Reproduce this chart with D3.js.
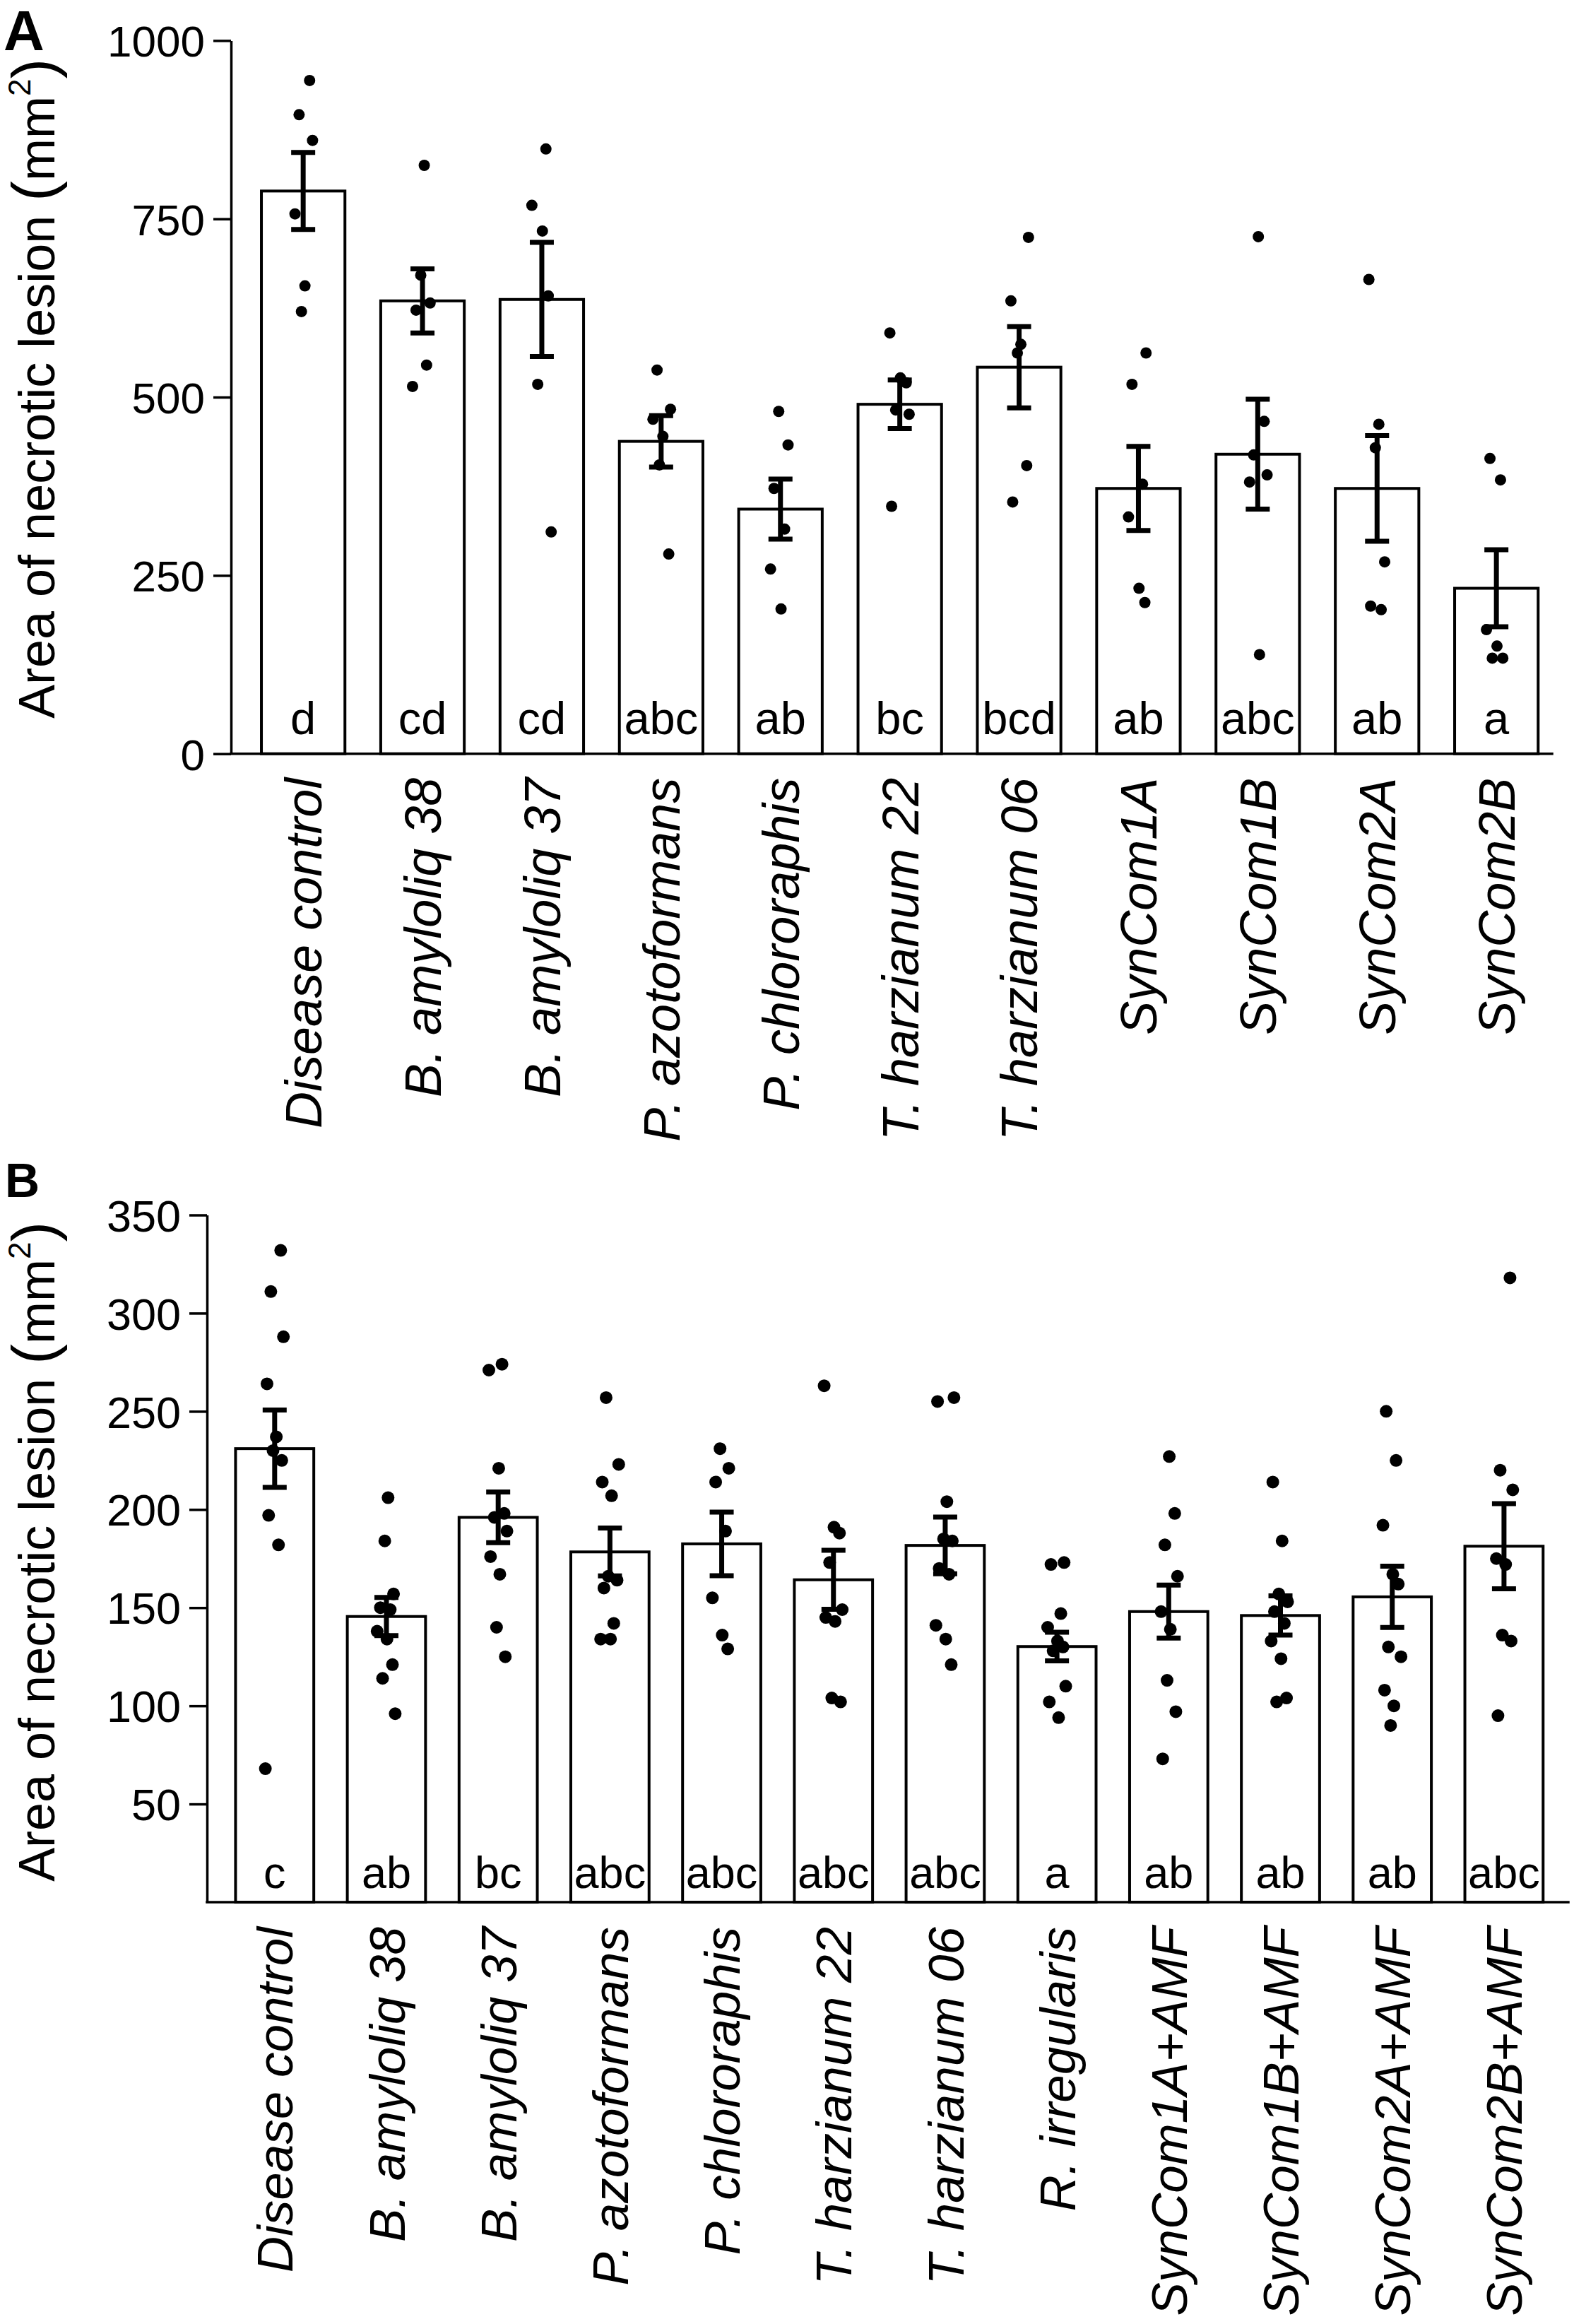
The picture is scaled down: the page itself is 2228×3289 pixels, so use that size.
<!DOCTYPE html>
<html>
<head>
<meta charset="utf-8">
<script src="https://cdn.jsdelivr.net/npm/d3@7"></script>
<style>
  body { margin: 0; background: #fff; }
  svg { display: block; }
  text { font-family: "Liberation Sans", Arial, sans-serif; fill: #000; }
</style>
</head>
<body>
<svg id="fig" width="2228" height="3289"></svg>
<script>
// panel A
const catsA = ["Disease control", "B. amyloliq 38", "B. amyloliq 37", "P. azotoformans", "P. chlororaphis",
  "T. harzianum 22", "T. harzianum 06", "SynCom1A", "SynCom1B", "SynCom2A", "SynCom2B"]
const meanA = [789, 635, 637, 438, 343, 490, 542, 372, 420, 372, 232]
const errA = [54, 45, 80, 36, 42, 34, 57, 59, 77, 74, 54]
const lettersA = ["d", "cd", "cd", "abc", "ab", "bc", "bcd", "ab", "abc", "ab", "a"]
const pointsA = [
  [944, 896, 860, 757, 656, 620],
  [825, 671, 632, 622, 545, 515],
  [848, 769, 733, 642, 518, 311],
  [538, 483, 469, 445, 405, 280],
  [480, 433, 372, 315, 259, 203],
  [590, 527, 520, 482, 476, 347],
  [724, 635, 574, 562, 404, 353],
  [562, 518, 378, 332, 232, 212],
  [725, 466, 419, 391, 381, 139],
  [665, 462, 429, 269, 207, 202],
  [414, 384, 174, 151, 134, 134]
]
const ticksA = [0, 250, 500, 750, 1000]

// panel B
const catsB = ["Disease control", "B. amyloliq 38", "B. amyloliq 37", "P. azotoformans", "P. chlororaphis",
  "T. harzianum 22", "T. harzianum 06", "R. irregularis", "SynCom1A+AMF", "SynCom1B+AMF", "SynCom2A+AMF", "SynCom2B+AMF"]
const meanB = [231, 145.5, 196, 178.4, 182.5, 164.2, 181.7, 130.2, 148, 146, 155.5, 181.3]
const errB = [19.7, 9.7, 12.9, 12.2, 16.2, 15, 14.4, 7.3, 13.5, 10, 15.6, 21.7]
const lettersB = ["c", "ab", "bc", "abc", "abc", "abc", "abc", "a", "ab", "ab", "ab", "abc"]
const pointsB = [
  [332, 311, 288, 264, 237, 230, 225, 197, 182, 68],
  [206, 184, 157, 150, 149, 138, 134, 121, 114, 96],
  [274, 271, 221, 198, 196, 189, 176, 167, 140, 125],
  [257, 223, 214, 207, 166, 164, 160, 142, 134, 134],
  [231, 221, 214, 189, 155, 136, 129],
  [263, 191, 188, 173, 149, 145, 143, 104, 102],
  [257, 255, 204, 185, 184, 170, 167, 141, 134, 121],
  [173, 172, 147, 140, 133, 130, 128, 110, 102, 94],
  [227, 198, 182, 166, 148, 139, 113, 97, 73],
  [214, 184, 157, 153, 148, 142, 133, 124, 104, 102],
  [250, 225, 192, 167, 162, 130, 125, 108, 100, 90],
  [318, 220, 210, 175, 172, 136, 133, 95]
]
const ticksB = [50, 100, 150, 200, 250, 300, 350]

// fixed jitter pattern for the dots
const jit = [0.55, -0.35, 0.8, -0.7, 0.15, -0.15, 0.65, -0.55, 0.35, -0.85, 0.05]

var svg = d3.select("#fig")
svg.append("rect").attr("width", 2228).attr("height", 3289).attr("fill", "#fff")

function drawPanel(p) {
  var g = svg.append("g")
  var x = d3.scaleBand().domain(p.cats).range(p.xr).paddingInner(0.3).paddingOuter(0.15)
  var y = d3.scaleLinear().domain(p.ydom).range(p.yr)
  var bw = x.bandwidth()

  // bars
  g.selectAll("rect.bar").data(p.cats).enter().append("rect")
    .attr("x", d => x(d)).attr("width", bw)
    .attr("y", (d, i) => y(p.mean[i]))
    .attr("height", (d, i) => y(0) - y(p.mean[i]))
    .attr("fill", "#fff").attr("stroke", "#000").attr("stroke-width", 4)

  // error bars
  p.cats.forEach(function(c, i) {
    var cx = x(c) + bw / 2
    var hi = y(p.mean[i] + p.err[i]), lo = y(p.mean[i] - p.err[i])
    g.append("line").attr("x1", cx).attr("x2", cx).attr("y1", hi).attr("y2", lo)
      .attr("stroke", "#000").attr("stroke-width", 7)
    g.append("line").attr("x1", cx - 17).attr("x2", cx + 17).attr("y1", hi).attr("y2", hi)
      .attr("stroke", "#000").attr("stroke-width", 7)
    g.append("line").attr("x1", cx - 17).attr("x2", cx + 17).attr("y1", lo).attr("y2", lo)
      .attr("stroke", "#000").attr("stroke-width", 7)
  })

  // dots
  p.cats.forEach(function(c, i) {
    var cx = x(c) + bw / 2
    g.selectAll(null).data(p.pts[i]).enter().append("circle")
      .attr("cx", (v, j) => cx + jit[(i * 4 + j) % jit.length] * bw * 0.14)
      .attr("cy", v => y(v))
      .attr("r", p.r).attr("fill", "#000")
  })

  // letters
  g.selectAll("text.let").data(p.cats).enter().append("text")
    .attr("x", d => x(d) + bw / 2).attr("y", y(0) - p.letOff)
    .attr("text-anchor", "middle").style("font-size", p.letSize + "px")
    .text((d, i) => p.letters[i])

  // y axis
  var ax = g.append("g").attr("transform", "translate(" + p.axX + ",0)")
    .call(d3.axisLeft(y).tickValues(p.ticks).tickFormat(d3.format("d"))
      .tickSize(25).tickPadding(12).tickSizeOuter(0))
  ax.select(".domain").attr("stroke-width", 3.5)
  ax.selectAll(".tick line").attr("stroke-width", 3.5)
  ax.selectAll(".tick text").style("font-size", p.tickSize + "px")
    .style("font-family", "'Liberation Sans', Arial, sans-serif").attr("dy", "0.36em")

  // x axis line
  g.append("line").attr("x1", p.axX).attr("x2", p.axEnd).attr("y1", y(0)).attr("y2", y(0))
    .attr("stroke", "#000").attr("stroke-width", 3.5).attr("stroke-linecap", "square")

  // category labels
  g.selectAll("text.cat").data(p.cats).enter().append("text")
    .attr("transform", d => "translate(" + (x(d) + bw / 2 + p.catSize * 0.36) + "," + (y(0) + p.catGap) + ") rotate(-90)")
    .attr("text-anchor", "end").style("font-size", p.catSize + "px").style("font-style", "italic")
    .text(d => d)

  // y title
  var t = g.append("text")
    .attr("transform", "translate(77," + p.titleY + ") rotate(-90)")
    .attr("text-anchor", "middle").style("font-size", "72px")
  t.append("tspan").text("Area of necrotic lesion ")
  t.append("tspan").style("font-size", "86px").text("(")
  t.append("tspan").text("mm")
  t.append("tspan").style("font-size", "44px").attr("dy", -34).text("2")
  t.append("tspan").style("font-size", "86px").attr("dy", 34).text(")")

  // panel letter
  g.append("text").attr("x", p.lab[0]).attr("y", p.lab[1])
    .style("font-size", p.lab[2] + "px").style("font-weight", "bold").text(p.label)
}

drawPanel({
  label: "A", lab: [5, 71, 80],
  cats: catsA, mean: meanA, err: errA, letters: lettersA, pts: pointsA, ticks: ticksA,
  xr: [344.7, 2202.6], ydom: [0, 1000], yr: [1066.7, 57.4],
  axX: 327, axEnd: 2197, r: 8, letSize: 65, letOff: 28, tickSize: 62,
  catSize: 72, catGap: 34, titleY: 550
})

drawPanel({
  label: "B", lab: [7, 1694, 68],
  cats: catsB, mean: meanB, err: errB, letters: lettersB, pts: pointsB, ticks: ticksB,
  xr: [309.7, 2208], ydom: [0, 350], yr: [2692, 1719.5],
  axX: 293, axEnd: 2220, r: 9, letSize: 63, letOff: 20, tickSize: 63,
  catSize: 71, catGap: 35, titleY: 2196
})
</script>
</body>
</html>
